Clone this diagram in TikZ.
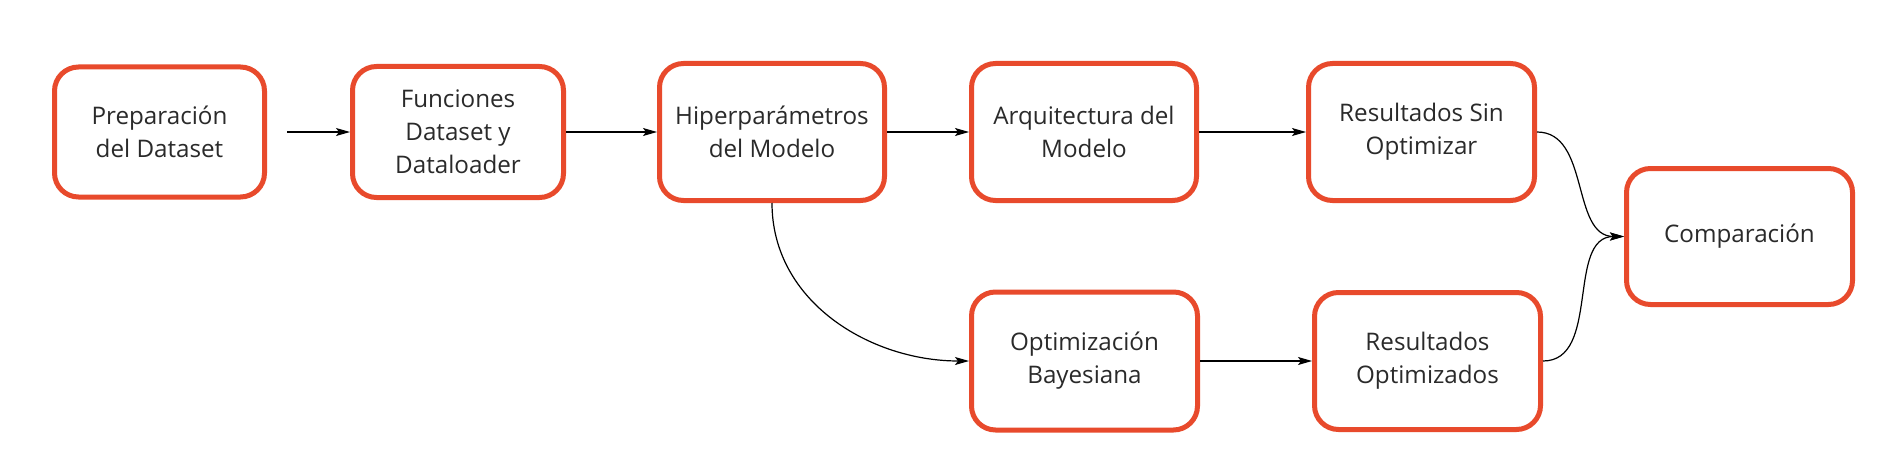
\documentclass[tikz,border=0pt]{standalone}
\usepackage{fontspec}
\setmainfont{Open Sans}
\usetikzlibrary{arrows.meta}
\definecolor{boxred}{HTML}{E84A2C}
\definecolor{txt}{HTML}{2A2A2A}
\begin{document}
\begin{tikzpicture}[x=1pt,y=1pt,
  box/.style={draw=boxred, line width=5pt, rounded corners=24pt, fill=white,
    align=center, text=txt, font=\fontsize{24.2}{33}\selectfont, inner sep=0pt},
  conn/.style={line width=1.2pt, draw=black,
    -{Stealth[length=14pt,width=8pt,inset=3pt]}}]
\useasboundingbox[fill=white] (0,0) rectangle (1896,-460);
\node[box, minimum width=210pt, minimum height=130pt] (b1) at (159.5,-132) {Preparación\\del Dataset};
\node[box, minimum width=211pt, minimum height=131pt] (b2) at (458,-132) {Funciones\\Dataset y\\Dataloader};
\node[box, minimum width=225pt, minimum height=137pt] (b3) at (772,-132) {Hiperparámetros\\del Modelo};
\node[box, minimum width=225pt, minimum height=137pt] (b4) at (1084,-132) {Arquitectura del\\Modelo};
\node[box, minimum width=226pt, minimum height=137pt] (b5) at (1421.5,-132) {Resultados Sin\\Optimizar};
\node[box, minimum width=226pt, minimum height=136pt] (b6) at (1739.5,-236.5) {Comparación};
\node[box, minimum width=226pt, minimum height=138pt] (b7) at (1084.5,-361) {Optimización\\Bayesiana};
\node[box, minimum width=226pt, minimum height=137pt] (b8) at (1427.5,-361) {Resultados\\Optimizados};
\coordinate (s1) at ([xshift=20pt]b1.east);
\draw[conn] (s1) -- (b2.west);
\draw[conn] (b2.east) -- (b3.west);
\draw[conn] (b3.east) -- (b4.west);
\draw[conn] (b4.east) -- (b5.west);
\draw[conn] (b7.east) -- (b8.west);
\draw[conn] (b3.south) to[out=-90,in=180] (b7.west);
\draw[conn] (b5.east) to[out=0,in=180] (b6.west);
\draw[conn] (b8.east) to[out=0,in=180] (b6.west);
\end{tikzpicture}
\end{document}
